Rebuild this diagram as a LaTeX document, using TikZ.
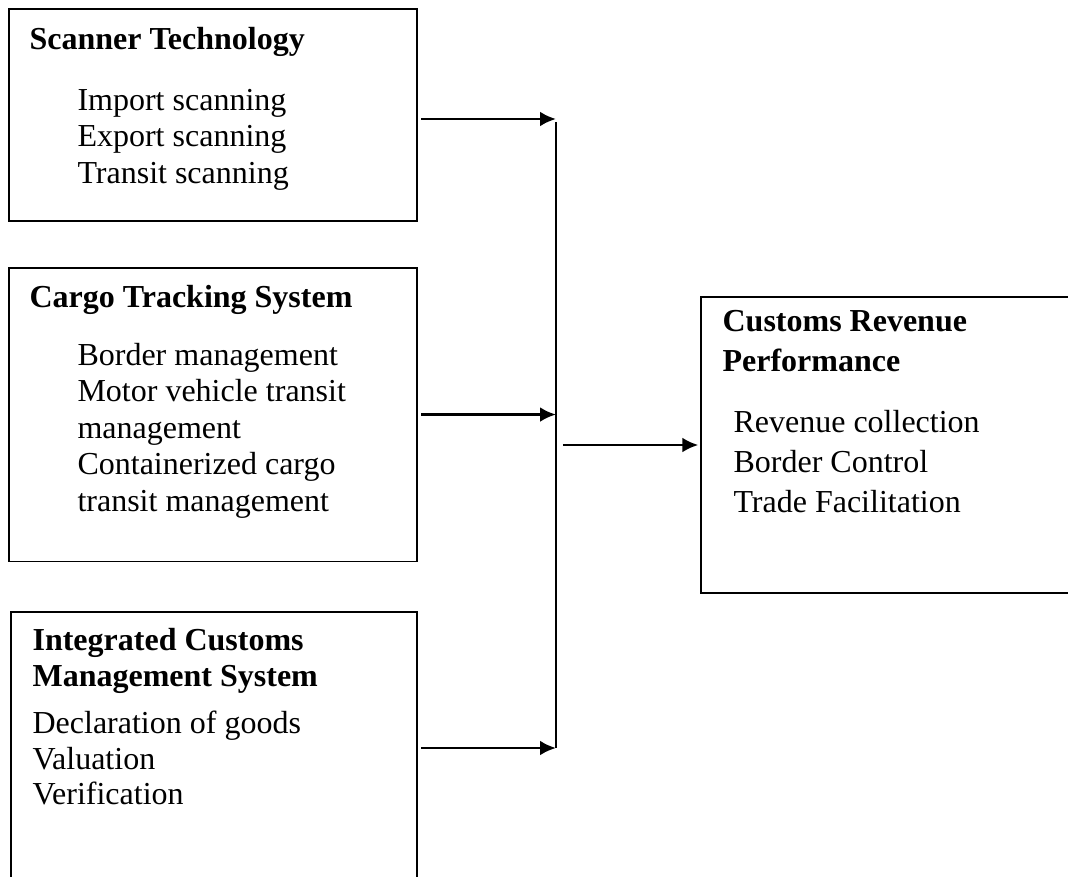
\documentclass[tikz,border=0pt]{standalone}
\usepackage{fontspec}
\setmainfont{Liberation Serif}
\usetikzlibrary {positioning,arrows.meta}

\begin{document}
\begin{tikzpicture}[x=0.375pt ,y=-0.375pt ,
line width=0.4pt ,
box/.style ={ rectangle ,draw ,outer sep=0pt ,anchor=north west},
head/.style ={ inner sep=0pt ,align=left ,execute at begin node=\strut ,
font=\fontsize{12}{13.7}\selectfont\bfseries},
items/.style ={ inner sep=0pt ,align=left ,execute at begin node=\strut ,
font=\fontsize{12}{13.7}\selectfont},
flow/.style ={-{Latex[length=6pt,width=5.6pt]} ,line width=1.1pt}
]
\useasboundingbox (0,0) rectangle (1068,876);
% input boxes
\node[box ,minimum width=153pt ,minimum height=79.5pt] (scan) at (9,9) {};
\node[head] (scanhead) [below right = 5.4pt and 7.5pt of scan.north west]
    {Scanner Technology};
\node[items] (scanitems) [below right = 29.8pt and 25.5pt of scan.north west]
    {Import scanning\\Export scanning\\Transit scanning};
\node[box ,minimum width=153pt ,minimum height=109.9pt] (cargo) at (9,268) {};
\node[head] (cargohead) [below right = 5pt and 7.5pt of cargo.north west]
    {Cargo Tracking System};
\node[items] (cargoitems) [below right = 27.9pt and 25.5pt of cargo.north west]
    {Border management\\Motor vehicle transit\\management\\Containerized cargo\\transit management};
\node[box ,minimum width=152.25pt ,minimum height=102pt] (icms) at (11,612) {};
\node[head] (icmshead) [below right = 5.8pt and 7.9pt of icms.north west]
    {Integrated Customs\\Management System};
\node[items ,font=\fontsize{12}{13.3}\selectfont] (icmsitems)
    [below right = 37pt and 7.9pt of icms.north west]
    {Declaration of goods\\Valuation\\Verification};
% outcome box
\node[box ,minimum width=150pt ,minimum height=111pt] (crp) at (701,297) {};
\node[head ,font=\fontsize{12}{15}\selectfont\bfseries] (crphead)
    [below right = 4.9pt and 7.9pt of crp.north west] {Customs Revenue\\Performance};
\node[items ,font=\fontsize{12}{15}\selectfont] (crpitems)
    [below right = 42.3pt and 12pt of crp.north west]
    {Revenue collection\\Border Control\\Trade Facilitation};
% connectors
\coordinate (bustop) at (556,122);
\coordinate (busbot) at (556,748);
\draw[line width=0.6pt] (bustop) -- (busbot);
\draw[flow] ([xshift=1.5pt ,yshift=-1.5pt]scan.east) -- ([yshift=-1.5pt]scan.east -| bustop);
\draw[flow] ([xshift=1.5pt]cargo.east) -- (cargo.east -| bustop);
\draw[flow] ([xshift=1.5pt]icms.east) -- (icms.east -| bustop);
\draw[flow] ([xshift=2.6pt]crp.west -| bustop) -- ([xshift=-1pt]crp.west);
\end{tikzpicture}
\end{document}
